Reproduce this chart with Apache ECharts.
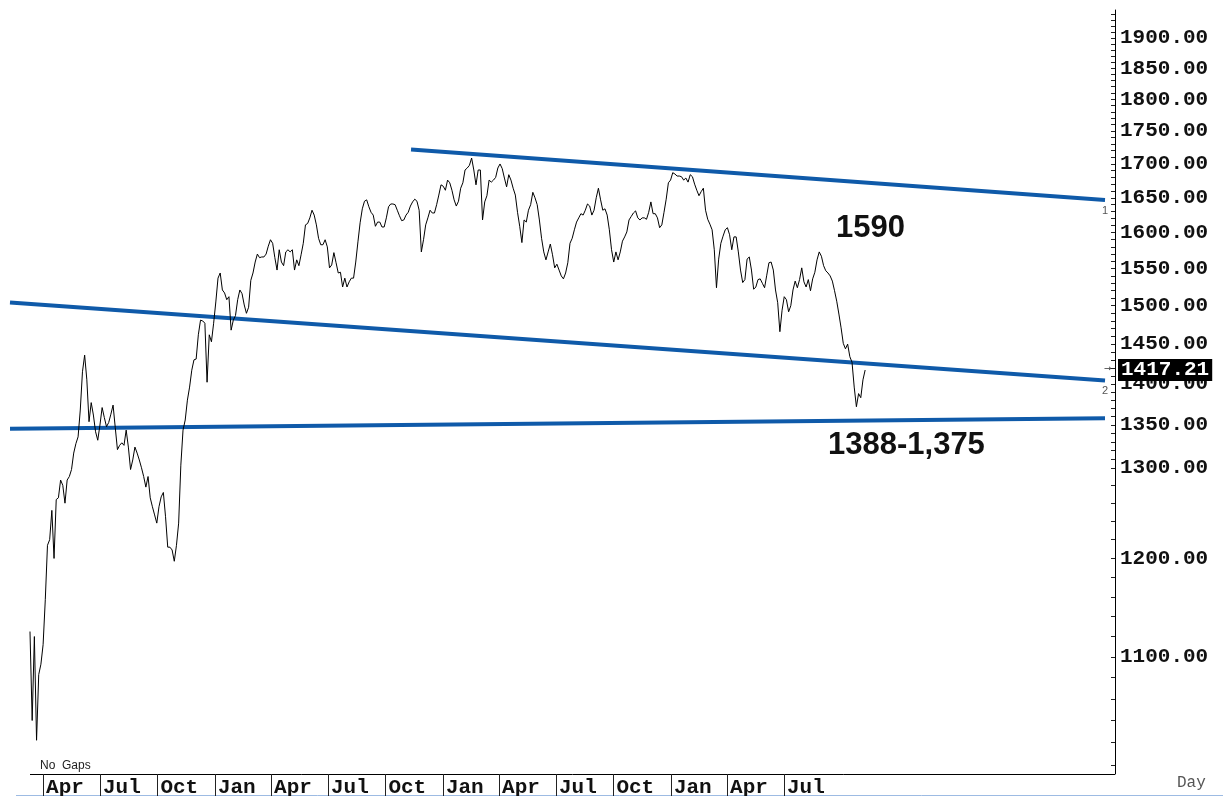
<!DOCTYPE html>
<html>
<head>
<meta charset="utf-8">
<script src="https://cdn.jsdelivr.net/npm/echarts@6/dist/echarts.min.js"></script>
<style>
html,body{margin:0;padding:0;background:#fff;}
#chart{width:1223px;height:796px;}
</style>
</head>
<body>
<div id="chart"></div>
<script>
// ---------------- DATA ----------------
// closes read every 3.5 days, first point 2020-03-11
const priceStart = '2020-03-11';
const priceStepDays = 3.5;
const priceValues = [
 1125,1040,1120,1022,1083,1093,1112,1157,1214,1220,
 1252,1200,1264,1266,1286,1280,1260,1286,1290,1298,
 1317,1328,1336,1368,1415,1436,1405,1354,1377,1362,
 1342,1332,1350,1371,1359,1348,1353,1363,1374,1347,
 1321,1326,1329,1326,1344,1324,1298,1309,1324,1317,
 1309,1300,1290,1278,1290,1266,1256,1247,1238,1256,
 1267,1272,1245,1212,1212,1209,1197,1214,1238,1303,
 1344,1356,1380,1396,1417,1430,1431,1462,1481,1480,
 1477,1402,1462,1453,1477,1505,1537,1544,1521,1517,
 1508,1512,1468,1481,1487,1508,1521,1516,1501,1490,
 1498,1534,1544,1559,1570,1565,1566,1566,1570,1581,
 1590,1585,1565,1548,1576,1559,1554,1573,1576,1573,
 1576,1548,1562,1554,1569,1585,1611,1613,1621,1632,
 1625,1611,1592,1583,1583,1590,1580,1551,1555,1572,
 1558,1544,1545,1525,1537,1525,1532,1537,1537,1559,
 1587,1614,1634,1645,1647,1637,1629,1625,1609,1615,
 1615,1608,1608,1621,1637,1641,1641,1640,1632,1624,
 1617,1618,1625,1629,1638,1644,1648,1645,1632,1573,
 1590,1611,1621,1632,1628,1628,1640,1654,1669,1667,
 1661,1676,1672,1661,1647,1638,1645,1664,1672,1691,
 1694,1698,1709,1691,1669,1691,1691,1618,1644,1653,
 1676,1673,1676,1680,1694,1700,1693,1679,1666,1684,
 1676,1664,1654,1629,1609,1586,1618,1615,1632,1640,
 1658,1650,1640,1618,1592,1573,1562,1573,1584,1569,
 1551,1556,1548,1540,1536,1544,1558,1585,1592,1604,
 1615,1621,1627,1625,1632,1641,1638,1625,1632,1650,
 1664,1647,1632,1634,1625,1604,1576,1559,1573,1562,
 1573,1588,1594,1601,1618,1623,1628,1631,1621,1618,
 1621,1621,1619,1629,1644,1627,1627,1621,1607,1611,
 1629,1648,1672,1676,1687,1685,1682,1682,1681,1676,
 1679,1673,1684,1681,1670,1661,1653,1659,1664,1632,
 1619,1612,1604,1576,1524,1563,1585,1595,1604,1607,
 1597,1576,1594,1594,1573,1548,1531,1535,1563,1566,
 1548,1522,1525,1535,1536,1530,1524,1541,1558,1559,
 1548,1521,1504,1466,1494,1512,1508,1492,1500,1521,
 1533,1524,1535,1551,1532,1525,1535,1520,1536,1545,
 1562,1573,1567,1554,1547,1544,1540,1533,1520,1506,
 1489,1471,1451,1444,1450,1434,1427,1396,1372,1388,
 1383,1405,1417.21
];
const lastValue = 1417.21;

// trend lines (start/end date, start/end value)
const trend1Dates = ['2021-11-11', '2024-11-26'];
const trend1Values = [1721.8, 1646.8];
const trend2Dates = ['2020-02-08', '2024-11-26'];
const trend2Values = [1504.3, 1404.2];
const trend3Dates = ['2020-02-08', '2024-11-26'];
const trend3Values = [1345.5, 1358.1];
const trendTags = ['1', '2', ''];

// axes
const xMinDate = '2020-02-08';
const xMaxDate = '2024-12-12';
const xTickDates = ['2020-04-01','2020-07-01','2020-10-01','2021-01-01','2021-04-01','2021-07-01','2021-10-01',
                    '2022-01-01','2022-04-01','2022-07-01','2022-10-01','2023-01-01','2023-04-01','2023-07-01'];
const xTickLabels = ['Apr','Jul','Oct','Jan','Apr','Jul','Oct','Jan','Apr','Jul','Oct','Jan','Apr','Jul'];
const yLabelValues = [1100,1200,1300,1350,1400,1450,1500,1550,1600,1650,1700,1750,1800,1850,1900];
const yMin = 992, yMax = 1947.6;

const annotationTexts = ['1590', '1388-1,375'];

// ---------------- BUILD ----------------
const DAY = 86400000;
function ts(s) { const p = s.split('-').map(Number); return Date.UTC(p[0], p[1] - 1, p[2]); }
const t0 = ts(priceStart);
const priceData = priceValues.map((v, i) => [t0 + i * priceStepDays * DAY, v]);
const xTickTimes = xTickDates.map(ts);

const yTickValues = [];
for (let v = 1000; v < 1300; v += 20) yTickValues.push(v);
for (let v = 1300; v <= 1940; v += 10) yTickValues.push(v);

function trendSeries(dates, values, tag) {
  return {
    type: 'line', silent: true, animation: false, z: 2,
    symbol: 'circle', symbolSize: 0.01, showSymbol: true,
    lineStyle: { color: '#0f5aa9', width: 4 },
    itemStyle: { color: '#0f5aa9' },
    data: [
      { value: [ts(dates[0]), values[0]] },
      { value: [ts(dates[1]), values[1]],
        label: { show: !!tag, formatter: tag, position: 'bottom', distance: 5,
                 color: '#555', fontSize: 11, fontFamily: 'Liberation Sans' } }
    ]
  };
}

const MONO = '"Liberation Mono", "DejaVu Sans Mono", monospace';

const chart = echarts.init(document.getElementById('chart'), null, { renderer: 'canvas' });
chart.setOption({
  backgroundColor: '#ffffff',
  animation: false,
  grid: { left: 10, right: 108, top: 10, bottom: 22, containLabel: false, outerBoundsMode: 'none' },
  xAxis: {
    type: 'value',
    min: ts(xMinDate), max: ts(xMaxDate),
    axisLine: { show: false },
    axisTick: { show: true, customValues: xTickTimes, length: 22, inside: false,
                lineStyle: { color: '#222', width: 1 } },
    axisLabel: {
      show: true, customValues: xTickTimes,
      formatter: function (v) {
        const idx = xTickTimes.indexOf(+v);
        return idx >= 0 ? xTickLabels[idx] : '';
      },
      align: 'left', verticalAlign: 'top', margin: 3, padding: [0, 0, 0, 3],
      fontFamily: MONO, fontWeight: 'bold', fontSize: 21, color: '#111'
    },
    splitLine: { show: false }
  },
  yAxis: {
    type: 'log', position: 'right',
    min: yMin, max: yMax,
    axisLine: { show: true, lineStyle: { color: '#000', width: 1 } },
    axisTick: { show: true, customValues: yTickValues, inside: true, length: 4,
                lineStyle: { color: '#222', width: 1 } },
    minorTick: { show: false },
    axisLabel: {
      show: true, customValues: yLabelValues, margin: 5,
      formatter: function (v) { return Number(v).toFixed(2); },
      fontFamily: MONO, fontWeight: 'bold', fontSize: 21, color: '#111'
    },
    splitLine: { show: false }
  },
  series: [
    trendSeries(trend1Dates, trend1Values, trendTags[0]),
    trendSeries(trend2Dates, trend2Values, trendTags[1]),
    trendSeries(trend3Dates, trend3Values, trendTags[2]),
    {
      type: 'line', name: 'price', data: priceData, z: 3,
      showSymbol: false, symbol: 'none', animation: false,
      lineStyle: { color: '#000', width: 1 },
      itemStyle: { color: '#000' },
      markLine: {
        silent: true, animation: false, symbol: ['none', 'none'],
        lineStyle: { color: 'rgba(0,0,0,0)', width: 1, type: 'solid' },
        label: {
          show: true, position: 'end', distance: 3, opacity: 1,
          formatter: lastValue.toFixed(2),
          backgroundColor: '#000', color: '#fff', padding: [1, 3, 0, 3],
          fontFamily: MONO, fontWeight: 'bold', fontSize: 21
        },
        data: [{ yAxis: lastValue }]
      }
    }
  ],
  graphic: [
    { type: 'line', silent: true, shape: { x1: 30, y1: 774.5, x2: 1115, y2: 774.5 },
      style: { stroke: '#000', lineWidth: 1 } },
    { type: 'text', left: 836, top: 213, silent: true,
      style: { text: annotationTexts[0], font: 'bold 31px "Liberation Sans", Arial, sans-serif', fill: '#111' } },
    { type: 'text', left: 828, top: 430, silent: true,
      style: { text: annotationTexts[1], font: 'bold 31px "Liberation Sans", Arial, sans-serif', fill: '#111' } },
    { type: 'text', left: 40, top: 760, silent: true,
      style: { text: 'No  Gaps', font: '12px "Liberation Sans", Arial, sans-serif', fill: '#222' } },
    { type: 'text', left: 1177, top: 775, silent: true,
      style: { text: 'Day', font: '16px ' + MONO, fill: '#555' } },
    { type: 'text', left: 1104, top: 364, silent: true,
      style: { text: '→', font: '9px "DejaVu Sans", sans-serif', fill: '#333' } },
    { type: 'line', silent: true, shape: { x1: 16, y1: 795.5, x2: 1223, y2: 795.5 },
      style: { stroke: '#9dbbe3', lineWidth: 1 } }
  ]
});
</script>
</body>
</html>
